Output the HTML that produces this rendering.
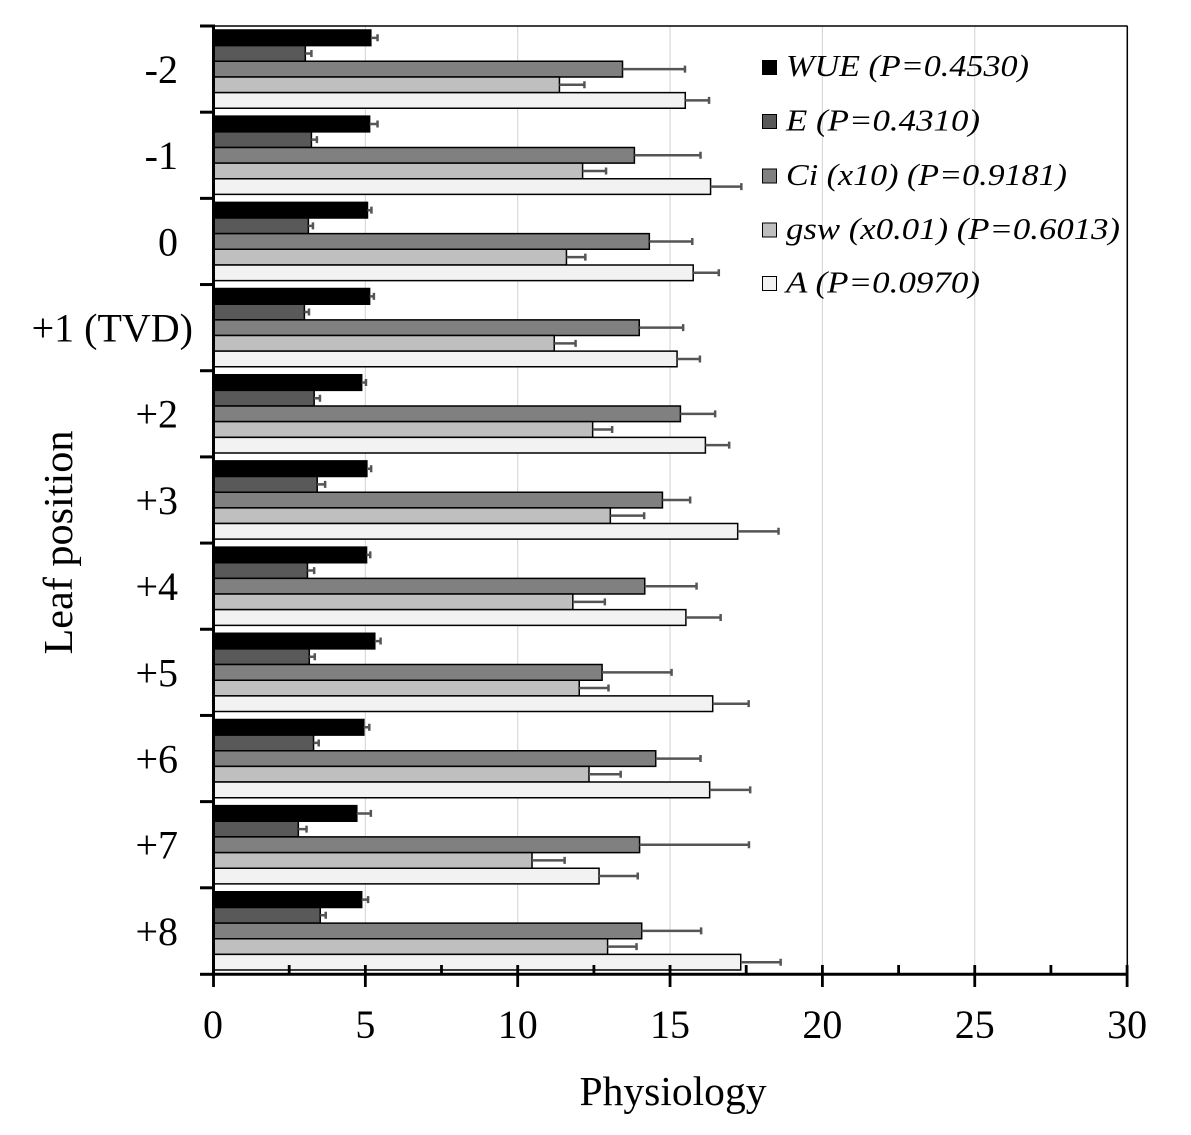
<!DOCTYPE html>
<html><head><meta charset="utf-8"><style>
html,body{margin:0;padding:0;background:#fff;}
svg{display:block;}
.b rect{stroke:#000;stroke-width:1.5;vector-effect:non-scaling-stroke;}
.e path{stroke:#555;stroke-width:2.5;fill:none;vector-effect:non-scaling-stroke;}
.t{font-family:"Liberation Serif","DejaVu Serif",serif;font-size:40px;fill:#000;}
.lg{font-family:"Liberation Serif","DejaVu Serif",serif;font-style:italic;font-size:31px;fill:#000;}
</style></head><body>
<svg width="1191" height="1135" viewBox="0 0 1191 1135" xmlns="http://www.w3.org/2000/svg">
<rect width="1191" height="1135" fill="#fff"/>
<g stroke="#d9d9d9" stroke-width="1.2">
<line x1="365.35" y1="26" x2="365.35" y2="973"/>
<line x1="517.7" y1="26" x2="517.7" y2="973"/>
<line x1="670.05" y1="26" x2="670.05" y2="973"/>
<line x1="822.4" y1="26" x2="822.4" y2="973"/>
<line x1="974.75" y1="26" x2="974.75" y2="973"/>
</g>
<line x1="213" y1="26" x2="1127.5" y2="26" stroke="#000" stroke-width="1.5"/>
<line x1="1127.3" y1="26" x2="1127.3" y2="974" stroke="#000" stroke-width="1.5"/>

<g transform="translate(213,0) scale(30.47,1)">
<g class="b">
<g transform="translate(0,26)"><rect y="4" width="5.18" height="15.65" fill="#000"/><rect y="19.65" width="3.03" height="15.65" fill="#595959"/><rect y="35.3" width="13.44" height="15.65" fill="#808080"/><rect y="50.95" width="11.37" height="15.65" fill="#bfbfbf"/><rect y="66.6" width="15.50" height="15.65" fill="#f2f2f2"/></g>
<g transform="translate(0,112.18)"><rect y="4" width="5.14" height="15.65" fill="#000"/><rect y="19.65" width="3.23" height="15.65" fill="#595959"/><rect y="35.3" width="13.83" height="15.65" fill="#808080"/><rect y="50.95" width="12.13" height="15.65" fill="#bfbfbf"/><rect y="66.6" width="16.33" height="15.65" fill="#f2f2f2"/></g>
<g transform="translate(0,198.36)"><rect y="4" width="5.07" height="15.65" fill="#000"/><rect y="19.65" width="3.13" height="15.65" fill="#595959"/><rect y="35.3" width="14.32" height="15.65" fill="#808080"/><rect y="50.95" width="11.6" height="15.65" fill="#bfbfbf"/><rect y="66.6" width="15.76" height="15.65" fill="#f2f2f2"/></g>
<g transform="translate(0,284.54)"><rect y="4" width="5.14" height="15.65" fill="#000"/><rect y="19.65" width="3.0" height="15.65" fill="#595959"/><rect y="35.3" width="13.99" height="15.65" fill="#808080"/><rect y="50.95" width="11.2" height="15.65" fill="#bfbfbf"/><rect y="66.6" width="15.23" height="15.65" fill="#f2f2f2"/></g>
<g transform="translate(0,370.72)"><rect y="4" width="4.88" height="15.65" fill="#000"/><rect y="19.65" width="3.32" height="15.65" fill="#595959"/><rect y="35.3" width="15.34" height="15.65" fill="#808080"/><rect y="50.95" width="12.46" height="15.65" fill="#bfbfbf"/><rect y="66.6" width="16.16" height="15.65" fill="#f2f2f2"/></g>
<g transform="translate(0,456.9)"><rect y="4" width="5.05" height="15.65" fill="#000"/><rect y="19.65" width="3.42" height="15.65" fill="#595959"/><rect y="35.3" width="14.75" height="15.65" fill="#808080"/><rect y="50.95" width="13.04" height="15.65" fill="#bfbfbf"/><rect y="66.6" width="17.22" height="15.65" fill="#f2f2f2"/></g>
<g transform="translate(0,543.08)"><rect y="4" width="5.04" height="15.65" fill="#000"/><rect y="19.65" width="3.10" height="15.65" fill="#595959"/><rect y="35.3" width="14.17" height="15.65" fill="#808080"/><rect y="50.95" width="11.81" height="15.65" fill="#bfbfbf"/><rect y="66.6" width="15.52" height="15.65" fill="#f2f2f2"/></g>
<g transform="translate(0,629.26)"><rect y="4" width="5.31" height="15.65" fill="#000"/><rect y="19.65" width="3.16" height="15.65" fill="#595959"/><rect y="35.3" width="12.77" height="15.65" fill="#808080"/><rect y="50.95" width="12.02" height="15.65" fill="#bfbfbf"/><rect y="66.6" width="16.4" height="15.65" fill="#f2f2f2"/></g>
<g transform="translate(0,715.44)"><rect y="4" width="4.95" height="15.65" fill="#000"/><rect y="19.65" width="3.30" height="15.65" fill="#595959"/><rect y="35.3" width="14.53" height="15.65" fill="#808080"/><rect y="50.95" width="12.34" height="15.65" fill="#bfbfbf"/><rect y="66.6" width="16.3" height="15.65" fill="#f2f2f2"/></g>
<g transform="translate(0,801.62)"><rect y="4" width="4.72" height="15.65" fill="#000"/><rect y="19.65" width="2.80" height="15.65" fill="#595959"/><rect y="35.3" width="14.0" height="15.65" fill="#808080"/><rect y="50.95" width="10.47" height="15.65" fill="#bfbfbf"/><rect y="66.6" width="12.67" height="15.65" fill="#f2f2f2"/></g>
<g transform="translate(0,887.8)"><rect y="4" width="4.88" height="15.65" fill="#000"/><rect y="19.65" width="3.52" height="15.65" fill="#595959"/><rect y="35.3" width="14.07" height="15.65" fill="#808080"/><rect y="50.95" width="12.95" height="15.65" fill="#bfbfbf"/><rect y="66.6" width="17.32" height="15.65" fill="#f2f2f2"/></g>
</g>
<g class="e">
<g transform="translate(0,26)"><path d="M5.18 11.83H5.40M5.40 8.3V15.3M3.03 27.48H3.23M3.23 24V31M13.44 43.13H15.49M15.49 39.6V46.6M11.37 58.78H12.19M12.19 55.3V62.3M15.50 74.43H16.28M16.28 70.9V77.9"/></g>
<g transform="translate(0,112.18)"><path d="M5.14 11.83H5.40M5.40 8.3V15.3M3.23 27.48H3.41M3.41 24V31M13.83 43.13H16.0M16.0 39.6V46.6M12.13 58.78H12.9M12.9 55.3V62.3M16.33 74.43H17.34M17.34 70.9V77.9"/></g>
<g transform="translate(0,198.36)"><path d="M5.07 11.83H5.20M5.20 8.3V15.3M3.13 27.48H3.28M3.28 24V31M14.32 43.13H15.73M15.73 39.6V46.6M11.6 58.78H12.22M12.22 55.3V62.3M15.76 74.43H16.6M16.6 70.9V77.9"/></g>
<g transform="translate(0,284.54)"><path d="M5.14 11.83H5.28M5.28 8.3V15.3M3.0 27.48H3.15M3.15 24V31M13.99 43.13H15.43M15.43 39.6V46.6M11.2 58.78H11.9M11.9 55.3V62.3M15.23 74.43H15.98M15.98 70.9V77.9"/></g>
<g transform="translate(0,370.72)"><path d="M4.88 11.83H5.02M5.02 8.3V15.3M3.32 27.48H3.51M3.51 24V31M15.34 43.13H16.48M16.48 39.6V46.6M12.46 58.78H13.1M13.1 55.3V62.3M16.16 74.43H16.94M16.94 70.9V77.9"/></g>
<g transform="translate(0,456.9)"><path d="M5.05 11.83H5.19M5.19 8.3V15.3M3.42 27.48H3.68M3.68 24V31M14.75 43.13H15.66M15.66 39.6V46.6M13.04 58.78H14.15M14.15 55.3V62.3M17.22 74.43H18.56M18.56 70.9V77.9"/></g>
<g transform="translate(0,543.08)"><path d="M5.04 11.83H5.16M5.16 8.3V15.3M3.10 27.48H3.32M3.32 24V31M14.17 43.13H15.87M15.87 39.6V46.6M11.81 58.78H12.86M12.86 55.3V62.3M15.52 74.43H16.66M16.66 70.9V77.9"/></g>
<g transform="translate(0,629.26)"><path d="M5.31 11.83H5.5M5.5 8.3V15.3M3.16 27.48H3.34M3.34 24V31M12.77 43.13H15.05M15.05 39.6V46.6M12.02 58.78H12.98M12.98 55.3V62.3M16.4 74.43H17.58M17.58 70.9V77.9"/></g>
<g transform="translate(0,715.44)"><path d="M4.95 11.83H5.13M5.13 8.3V15.3M3.30 27.48H3.47M3.47 24V31M14.53 43.13H16.0M16.0 39.6V46.6M12.34 58.78H13.38M13.38 55.3V62.3M16.3 74.43H17.63M17.63 70.9V77.9"/></g>
<g transform="translate(0,801.62)"><path d="M4.72 11.83H5.18M5.18 8.3V15.3M2.80 27.48H3.07M3.07 24V31M14.0 43.13H17.59M17.59 39.6V46.6M10.47 58.78H11.54M11.54 55.3V62.3M12.67 74.43H13.94M13.94 70.9V77.9"/></g>
<g transform="translate(0,887.8)"><path d="M4.88 11.83H5.09M5.09 8.3V15.3M3.52 27.48H3.70M3.70 24V31M14.07 43.13H16.02M16.02 39.6V46.6M12.95 58.78H13.9M13.9 55.3V62.3M17.32 74.43H18.63M18.63 70.9V77.9"/></g>
</g>
</g>

<g stroke="#000" stroke-width="3">
<line x1="213.5" y1="24.5" x2="213.5" y2="976"/>
<line x1="212" y1="974.3" x2="1128.5" y2="974.3"/>
<line x1="200" y1="26" x2="213" y2="26"/>
<line x1="200" y1="112.18" x2="213" y2="112.18"/>
<line x1="200" y1="198.36" x2="213" y2="198.36"/>
<line x1="200" y1="284.54" x2="213" y2="284.54"/>
<line x1="200" y1="370.72" x2="213" y2="370.72"/>
<line x1="200" y1="456.9" x2="213" y2="456.9"/>
<line x1="200" y1="543.08" x2="213" y2="543.08"/>
<line x1="200" y1="629.26" x2="213" y2="629.26"/>
<line x1="200" y1="715.44" x2="213" y2="715.44"/>
<line x1="200" y1="801.62" x2="213" y2="801.62"/>
<line x1="200" y1="887.8" x2="213" y2="887.8"/>
<line x1="200" y1="974.3" x2="213" y2="974.3"/>
</g>
<g stroke="#000" stroke-width="2.8">
<line x1="213.5" y1="965" x2="213.5" y2="987"/>
<line x1="365.35" y1="965" x2="365.35" y2="987"/>
<line x1="517.7" y1="965" x2="517.7" y2="987"/>
<line x1="670.05" y1="965" x2="670.05" y2="987"/>
<line x1="822.4" y1="965" x2="822.4" y2="987"/>
<line x1="974.75" y1="965" x2="974.75" y2="987"/>
<line x1="1127.1" y1="965" x2="1127.1" y2="987"/>
<line x1="289.2" y1="965" x2="289.2" y2="974"/>
<line x1="441.5" y1="965" x2="441.5" y2="974"/>
<line x1="593.9" y1="965" x2="593.9" y2="974"/>
<line x1="746.2" y1="965" x2="746.2" y2="974"/>
<line x1="898.6" y1="965" x2="898.6" y2="974"/>
<line x1="1050.9" y1="965" x2="1050.9" y2="974"/>
</g>

<g class="t" text-anchor="end">
<text x="178" y="83">-2</text>
<text x="178" y="169.2">-1</text>
<text x="178" y="255.4">0</text>
<text x="193" y="341.5">+1 (TVD)</text>
<text x="178" y="427.7">+2</text>
<text x="178" y="513.9">+3</text>
<text x="178" y="600.1">+4</text>
<text x="178" y="686.3">+5</text>
<text x="178" y="772.4">+6</text>
<text x="178" y="858.6">+7</text>
<text x="178" y="944.8">+8</text>
</g>
<g class="t" text-anchor="middle">
<text x="213" y="1038">0</text>
<text x="365.35" y="1038">5</text>
<text x="517.7" y="1038">10</text>
<text x="670.05" y="1038">15</text>
<text x="822.4" y="1038">20</text>
<text x="974.75" y="1038">25</text>
<text x="1127.1" y="1038">30</text>
</g>
<text class="t" x="673" y="1105" text-anchor="middle" style="font-size:41px" textLength="187" lengthAdjust="spacingAndGlyphs">Physiology</text>
<text class="t" transform="translate(72,542.5) rotate(-90)" x="0" y="0" text-anchor="middle" style="font-size:41px" textLength="224" lengthAdjust="spacingAndGlyphs">Leaf position</text>

<g stroke="#000" stroke-width="1">
<rect x="762.5" y="60.5" width="14" height="14" fill="#000"/>
<rect x="762.5" y="114.5" width="14" height="14" fill="#595959"/>
<rect x="762.5" y="169" width="14" height="14" fill="#808080"/>
<rect x="762.5" y="223" width="14" height="14" fill="#bfbfbf"/>
<rect x="762.5" y="276.5" width="14" height="14" fill="#f2f2f2"/>
</g>
<g class="lg">
<text x="786" y="76" textLength="243" lengthAdjust="spacingAndGlyphs">WUE (P=0.4530)</text>
<text x="786" y="130.5" textLength="194" lengthAdjust="spacingAndGlyphs">E (P=0.4310)</text>
<text x="786" y="185" textLength="281" lengthAdjust="spacingAndGlyphs">Ci (x10) (P=0.9181)</text>
<text x="786" y="239" textLength="334" lengthAdjust="spacingAndGlyphs">gsw (x0.01) (P=0.6013)</text>
<text x="786" y="292.5" textLength="194" lengthAdjust="spacingAndGlyphs">A (P=0.0970)</text>
</g>
</svg>
</body></html>
